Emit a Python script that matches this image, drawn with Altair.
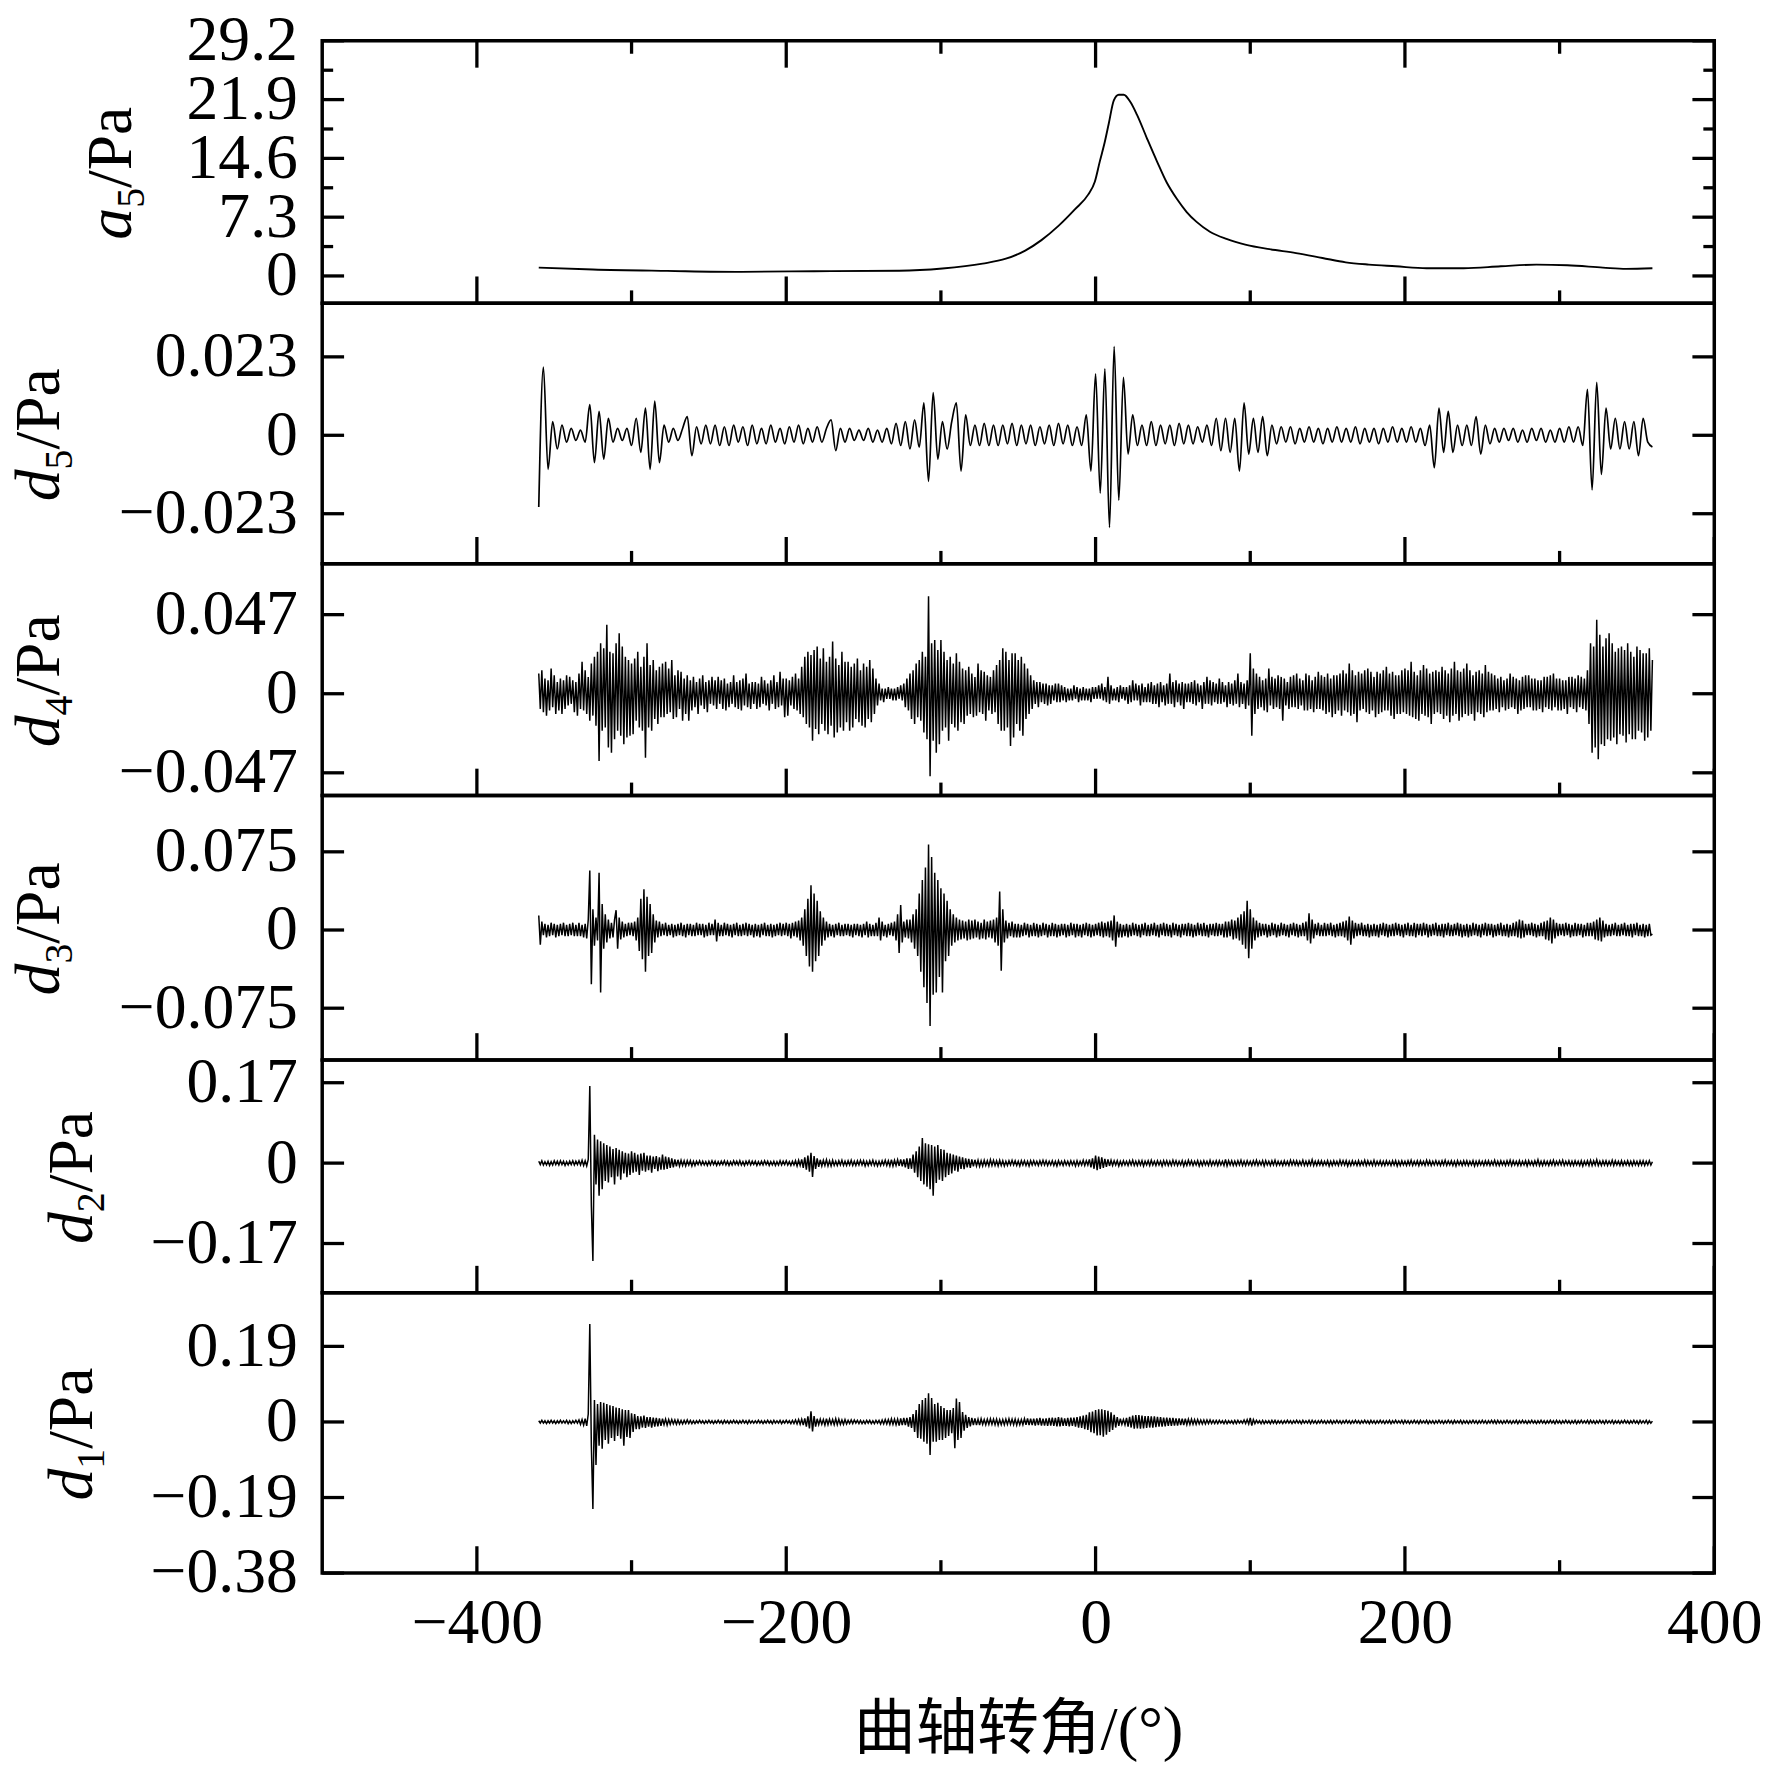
import altair as alt
import pandas as pd

FONT = "Liberation Serif"
TITLE_FONT = "Liberation Serif, Noto Sans CJK SC"
W = 1400
XDOM = [-500, 400]
X_MAJOR = [-400, -200, 0, 200, 400]
X_MINOR = [-300, -100, 100, 300]

# ---- a5 (Pa), read at irregular crank angles ----
a5_deg = [-360, -325, -277, -229, -182, -127, -99, -73, -58, -45.5, -35, -24, -13.4, -4.8, -0.5,
          2.7, 5.9, 8.5, 11.8, 15, 18.2, 22.5, 26.8, 33.2, 39.6, 46, 52.5, 58.9, 65.3, 73.9, 84.6,
          97.4, 112.4, 129.6, 146.7, 161.7, 176.7, 194, 214, 238, 262, 285, 305, 328, 343, 360]
a5_val = [1.04, 0.80, 0.63, 0.51, 0.59, 0.64, 0.92, 1.53, 2.14, 3.15, 4.45, 6.22, 8.27, 10.1, 11.7,
          14.2, 16.6, 18.9, 21.8, 22.5, 22.5, 21.6, 20.0, 17.1, 14.27, 11.6, 9.58, 7.94, 6.71, 5.49, 4.59,
          3.86, 3.33, 2.84, 2.23, 1.69, 1.41, 1.2, 0.96, 0.96, 1.2, 1.41, 1.33, 1.04, 0.88, 0.96]

# ---- d5 (mPa), every 3 deg from -360 ----
d5_mpa = [
    -21, 20, -10, 4, -4, 3, -2, 2, -1.5, 1.5,
    -2, 9, -8, 7, -7, 5, -2, 2, -1.5, 2,
    -3, 5, -5, 8, -10, 10, -8, 3, -2, 2,
    -1.5, 2, 5.5, -6, 2.5, -2.5, 3, -2.5, 3, -3,
    2.5, -3, 3, -2, 2.5, -3, 3, -2.5, 2, -2.5,
    3, -2, 2, -2.5, 2.5, -2, 3, -2.5, 2, -2,
    2.5, -2, 2, 4.5, -4.5, 2, -2, 2, -1.5, 1.5,
    -1.5, 2, -2, 1.5, -2, 2, -2.5, 3.5, -3, 4,
    -4, 4.5, -3.5, 9.5, -13.5, 12.5, -7, 4, -4, 4,
    9.5, -10.5, 6, -3, 3, -3, 3.5, -3, 3, -3,
    3, -2.5, 3.5, -3, 3, -2.5, 3, -3, 2.5, -2.5,
    3, -3, 3.5, -2.5, 3, -3, 2.5, -3, 6, -10.5,
    18, -17, 19.5, -27, 26, -19, 17, -5.5, 6, -3,
    3, -3, 4, -3, 3, -2.5, 3, -3, 3.5, -2.5,
    3, -2.5, 2.5, -2, 3, -3, 5, -4.5, 5, -5,
    5, -10.5, 9.5, -5.5, 5, -5, 5.5, -6, 3, -2.5,
    2.5, -2, 2.5, -2.5, 2, -2, 2.5, -2, 2, -2.5,
    2, -2, 2.5, -2, 2, -2, 2.5, -2.5, 2, -2,
    2, -2.5, 2, -2, 2.5, -2, 2, -2, 2.5, -2,
    2, -3, 3, -9.5, 8, -5, 7, -5, 3, -3,
    3, -3, 5.5, -5.5, 3, -2.5, 2, -2, 2, -1.5,
    2, -2, 1.5, -2, 2, -1.5, 2, -2, 1.5, -2,
    2, -2, 2.5, -2, 2.5, -3, 13.5, -16, 15.5, -11.5,
    8, -4, 5, -4, 4, -4, 4, -6, 5, -2,
    -3.4]

# ---- d4 (mPa), every 1 deg from -360 (20 values per row) ----
d4_mpa = [
    12, -9, 14, -11, 9, -13, 8, -10, 15, -8, 11, -12, 7, -10, 9, -12, 8, -9, 11, -7,
    10, -6, 8, -11, 7, -13, 12, -9, 19, -10, 14, -12, 10, -16, 18, -13, 22, -19, 25, -40,
    30, -22, 27, -20, 41, -32, 25, -35, 24, -27, 30, -22, 36, -25, 28, -30, 22, -26, 20, -25,
    18, -24, 21, -16, 25, -20, 16, -22, 22, -38, 30, -20, 17, -22, 20, -15, 14, -18, 16, -14,
    18, -14, 19, -12, 15, -11, 20, -15, 11, -14, 14, -9, 13, -16, 9, -12, 11, -16, 8, -10,
    10, -8, 7, -12, 9, -7, 11, -9, 7, -11, 8, -6, 10, -7, 8, -9, 10, -6, 8, -9,
    9, -10, 6, -8, 7, -6, 11, -8, 7, -9, 8, -10, 9, -7, 12, -8, 6, -9, 7, -6,
    7, -9, 6, -8, 10, -6, 8, -7, 6, -10, 8, -6, 11, -9, 7, -8, 13, -7, 9, -14,
    9, -13, 8, -7, 10, -9, 12, -10, 9, -12, 16, -14, 22, -18, 25, -20, 23, -28, 26, -21,
    28, -24, 21, -18, 27, -22, 19, -24, 22, -19, 31, -26, 21, -23, 17, -20, 25, -22, 19, -17,
    19, -22, 16, -20, 18, -15, 21, -17, 14, -19, 18, -20, 16, -15, 20, -17, 15, -12, 9, -7,
    6, -4, 3, -5, 3, -3, 4, -3, 3, -4, 3, -4, 4, -3, 5, -4, 6, -8, 9, -10,
    12, -15, 14, -18, 18, -14, 20, -16, 25, -23, 22, -27, 58, -49, 30, -28, 32, -35, 26, -30,
    32, -22, 25, -20, 20, -28, 22, -18, 18, -20, 24, -22, 19, -17, 15, -18, 14, -13, 16, -12,
    12, -14, 10, -13, 18, -11, 14, -12, 13, -16, 11, -10, 10, -12, 14, -11, 17, -18, 20, -22,
    27, -22, 25, -20, 20, -31, 24, -26, 24, -18, 20, -22, 22, -25, 18, -15, 15, -12, 11, -9,
    8, -6, 7, -8, 7, -5, 6, -6, 6, -7, 5, -6, 5, -4, 6, -5, 6, -5, 5, -4,
    4, -5, 3, -4, 3, -4, 5, -3, 4, -5, 3, -4, 4, -4, 3, -4, 3, -5, 4, -3,
    4, -3, 5, -3, 6, -4, 4, -5, 10, -6, 5, -4, 3, -4, 4, -5, 5, -3, 4, -4,
    4, -6, 5, -5, 8, -4, 6, -4, 5, -7, 6, -5, 4, -5, 6, -5, 7, -6, 5, -6,
    6, -8, 7, -5, 5, -7, 6, -6, 12, -6, 7, -8, 8, -5, 6, -7, 7, -9, 6, -5,
    6, -5, 7, -6, 8, -7, 6, -5, 5, -9, 7, -6, 10, -6, 8, -7, 7, -5, 6, -6,
    9, -6, 7, -5, 5, -8, 7, -6, 6, -7, 8, -6, 12, -8, 7, -6, 6, -9, 8, -7,
    24, -25, 15, -12, 12, -9, 10, -8, 8, -10, 9, -11, 15, -7, 10, -9, 9, -8, 11, -9,
    10, -16, 9, -7, 7, -9, 10, -8, 11, -8, 12, -9, 9, -7, 8, -10, 12, -10, 11, -9,
    8, -11, 10, -9, 13, -9, 11, -10, 10, -12, 12, -11, 9, -14, 11, -12, 11, -10, 12, -13,
    14, -10, 12, -11, 18, -13, 14, -12, 11, -17, 13, -10, 12, -9, 14, -11, 15, -12, 13, -10,
    10, -14, 13, -12, 12, -11, 14, -10, 16, -10, 12, -13, 13, -15, 11, -12, 11, -12, 14, -11,
    15, -12, 14, -13, 19, -14, 13, -15, 11, -16, 14, -12, 17, -13, 15, -14, 12, -18, 13, -12,
    14, -11, 13, -12, 16, -15, 14, -13, 12, -17, 15, -13, 19, -12, 14, -16, 13, -14, 15, -12,
    18, -13, 14, -12, 11, -16, 13, -11, 14, -12, 12, -14, 17, -11, 13, -10, 12, -10, 11, -9,
    9, -11, 10, -8, 8, -10, 9, -9, 12, -8, 10, -9, 9, -12, 8, -10, 10, -9, 11, -8,
    11, -8, 9, -10, 9, -10, 8, -9, 8, -11, 10, -8, 10, -9, 11, -10, 12, -8, 9, -10,
    9, -10, 8, -9, 8, -12, 10, -8, 10, -9, 9, -11, 11, -8, 10, -9, 9, -10, 14, -18,
    30, -35, 28, -32, 44, -39, 35, -30, 28, -31, 33, -27, 36, -28, 30, -26, 25, -30, 27, -24,
    28, -25, 26, -29, 30, -24, 25, -27, 22, -27, 28, -22, 26, -23, 24, -28, 24, -26, 27, -22,
    20]

# ---- d3 (mPa), every 1 deg from -360 ----
d3_mpa = [
    14, -14, 8, -5, 6, -7, 5, -6, 7, -5, 6, -7, 5, -6, 6, -5, 7, -6, 5, -6,
    6, -5, 7, -6, 5, -6, 7, -6, 5, -7, 6, -8, 10, 57, -52, 20, -15, 12, -10, 55,
    -60, 25, -18, 15, -12, 10, -8, 7, -7, 10, 19, -18, 12, -9, 8, -7, 6, -6, 7, -5,
    7, -6, 8, -10, 12, -20, 30, -28, 39, -40, 32, -25, 25, -22, 15, -12, 9, -7, 8, -6,
    6, -5, 7, -6, 5, -5, 6, -7, 5, -6, 6, -5, 7, -6, 5, -7, 6, -5, 6, -6,
    5, -6, 7, -5, 6, -5, 6, -7, 5, -6, 7, -5, 6, -5, 10, -11, 7, -6, 5, -6,
    7, -5, 6, -6, 5, -7, 6, -5, 7, -6, 5, -6, 6, -5, 7, -6, 6, -5, 5, -7,
    6, -6, 5, -7, 6, -5, 7, -6, 5, -6, 6, -7, 5, -6, 6, -5, 7, -6, 6, -5,
    7, -6, 6, -8, 7, -6, 8, -7, 9, -10, 12, -15, 20, -25, 30, -35, 43, -40, 35, -30,
    28, -25, 18, -15, 12, -10, 8, -7, 6, -6, 5, -7, 6, -5, 7, -6, 5, -6, 6, -5,
    6, -6, 5, -7, 6, -5, 6, -6, 5, -7, 6, -5, 8, -7, 6, -6, 5, -6, 7, -6,
    12, -10, 8, -6, 5, -7, 6, -5, 7, -6, 8, -10, 15, -22, 24, -12, 8, -7, 10, -8,
    10, -12, 15, -18, 20, -25, 35, -40, 48, -55, 60, -70, 82, -92, 70, -62, 55, -60, 48, -45,
    40, -60, 35, -30, 28, -25, 20, -15, 15, -12, 12, -10, 10, -9, 9, -8, 8, -10, 10, -9,
    9, -8, 10, -7, 8, -9, 7, -8, 10, -9, 8, -7, 9, -8, 10, -12, 12, -15, 37, -39,
    20, -12, 9, -8, 7, -6, 8, -7, 6, -7, 6, -7, 5, -6, 7, -5, 6, -7, 5, -6,
    7, -6, 6, -7, 5, -6, 7, -5, 6, -7, 5, -6, 7, -6, 6, -7, 5, -6, 6, -5,
    6, -7, 5, -6, 7, -5, 6, -7, 6, -6, 5, -7, 6, -5, 7, -6, 6, -7, 5, -6,
    6, -5, 7, -6, 8, -7, 7, -6, 8, -7, 9, -10, 14, -16, 8, -7, 6, -7, 5, -6,
    6, -7, 5, -6, 7, -5, 6, -6, 5, -7, 6, -5, 7, -6, 5, -6, 6, -5, 7, -6,
    5, -7, 6, -5, 7, -6, 6, -6, 5, -7, 7, -5, 6, -6, 5, -7, 6, -5, 6, -6,
    7, -6, 6, -7, 5, -6, 7, -5, 6, -6, 7, -6, 5, -7, 6, -5, 6, -6, 7, -6,
    6, -5, 6, -7, 8, -7, 8, -6, 10, -9, 9, -8, 12, -10, 15, -14, 18, -18, 28, -27,
    20, -18, 12, -10, 9, -7, 7, -6, 6, -5, 6, -7, 5, -6, 7, -5, 6, -7, 5, -6,
    7, -5, 6, -6, 5, -7, 6, -5, 7, -6, 6, -7, 5, -6, 7, -6, 8, -10, 16, -13,
    10, -8, 6, -5, 7, -6, 5, -6, 7, -6, 6, -5, 7, -6, 5, -7, 6, -6, 7, -6,
    8, -7, 9, -10, 13, -14, 9, -8, 7, -6, 6, -5, 7, -6, 5, -6, 6, -7, 5, -6,
    6, -6, 5, -7, 6, -5, 7, -6, 6, -7, 5, -6, 6, -6, 7, -5, 6, -6, 5, -7,
    6, -5, 7, -6, 5, -6, 7, -7, 6, -5, 6, -6, 7, -5, 6, -7, 5, -6, 6, -5,
    7, -6, 5, -6, 6, -7, 6, -5, 7, -6, 5, -6, 6, -5, 7, -6, 6, -7, 5, -6,
    6, -7, 5, -6, 7, -5, 6, -6, 5, -7, 6, -5, 7, -6, 6, -5, 6, -7, 5, -6,
    6, -5, 7, -6, 5, -6, 6, -7, 5, -6, 7, -6, 8, -7, 10, -8, 9, -7, 6, -5,
    6, -5, 7, -6, 6, -7, 5, -6, 7, -6, 8, -9, 9, -10, 12, -13, 10, -8, 7, -6,
    6, -5, 6, -6, 7, -5, 6, -7, 5, -6, 7, -6, 6, -5, 6, -7, 5, -6, 7, -6,
    7, -6, 8, -9, 10, -10, 12, -11, 9, -7, 6, -6, 5, -6, 6, -5, 7, -6, 5, -6,
    6, -5, 7, -6, 5, -6, 6, -7, 6, -5, 7, -6, 5, -6, 6, -7, 5, -6, 6, -5,
    -4]

# ---- d2 (mPa), every 1 deg from -360 ----
d2_mpa = [
    4, -3, 5, -4, 3, -4, 4, -5, 3, -4, 5, -3, 4, -4, 5, -3, 4, -5, 3, -4,
    4, -3, 5, -4, 4, -3, 5, -4, 6, -5, 5, -6, 8, 163, -90, -207, 60, -45, 50, -69,
    46, -55, 42, -38, 38, -41, 35, -30, 30, -45, 32, -28, 28, -35, 25, -22, 22, -30, 20, -25,
    25, -20, 22, -18, 18, -25, 20, -16, 22, -18, 16, -15, 16, -20, 14, -12, 15, -17, 12, -14,
    18, -14, 14, -12, 12, -10, 10, -9, 8, -7, 7, -6, 6, -5, 5, -6, 5, -4, 5, -6,
    4, -5, 4, -3, 5, -4, 4, -4, 3, -5, 4, -4, 5, -3, 4, -5, 3, -4, 4, -3,
    5, -4, 4, -5, 3, -4, 5, -3, 4, -4, 5, -4, 3, -5, 4, -3, 5, -4, 4, -3,
    4, -5, 3, -4, 4, -4, 5, -3, 4, -5, 3, -4, 4, -5, 3, -4, 5, -4, 4, -3,
    5, -4, 3, -5, 4, -4, 5, -6, 6, -5, 8, -10, 12, -14, 16, -18, 22, -29, 15, -12,
    10, -8, 7, -6, 6, -5, 7, -6, 5, -6, 6, -5, 4, -5, 5, -4, 6, -5, 4, -5,
    5, -4, 6, -5, 4, -5, 5, -4, 6, -4, 5, -6, 4, -5, 5, -4, 6, -5, 4, -6,
    4, -5, 5, -4, 6, -5, 5, -6, 7, -6, 6, -5, 7, -6, 8, -7, 8, -9, 10, -12,
    10, -12, 18, -20, 25, -30, 35, -38, 53, -45, 42, -50, 40, -55, 38, -69, 35, -42, 38, -35,
    30, -38, 28, -30, 22, -25, 20, -22, 18, -16, 16, -18, 14, -12, 12, -13, 10, -9, 9, -10,
    8, -7, 7, -6, 6, -7, 5, -6, 6, -5, 5, -6, 7, -5, 6, -5, 5, -6, 6, -5,
    5, -6, 4, -5, 5, -4, 6, -4, 5, -5, 4, -6, 5, -4, 5, -5, 4, -6, 5, -4,
    5, -4, 4, -5, 5, -4, 6, -4, 5, -5, 4, -4, 5, -5, 4, -6, 5, -4, 4, -5,
    5, -4, 4, -5, 5, -4, 4, -6, 5, -5, 4, -4, 6, -5, 5, -4, 8, -9, 10, -12,
    16, -15, 14, -12, 12, -10, 9, -8, 8, -6, 6, -5, 5, -4, 5, -6, 4, -5, 5, -4,
    4, -5, 5, -4, 6, -5, 4, -5, 5, -4, 5, -6, 4, -4, 5, -5, 6, -4, 4, -5,
    5, -4, 4, -6, 5, -4, 5, -5, 4, -5, 6, -4, 5, -5, 4, -4, 5, -6, 4, -5,
    6, -4, 5, -5, 4, -4, 5, -6, 4, -5, 5, -4, 4, -5, 6, -5, 4, -4, 5, -5,
    5, -4, 4, -5, 8, -6, 5, -4, 5, -5, 4, -5, 5, -4, 6, -5, 4, -5, 5, -4,
    4, -5, 5, -4, 6, -5, 4, -4, 5, -6, 5, -4, 4, -5, 5, -4, 6, -5, 4, -4,
    4, -5, 5, -4, 4, -5, 6, -4, 5, -4, 5, -5, 4, -4, 6, -5, 4, -5, 5, -4,
    7, -5, 4, -5, 5, -4, 5, -5, 4, -4, 5, -6, 4, -5, 5, -4, 4, -5, 6, -4,
    5, -4, 5, -6, 4, -5, 5, -4, 4, -5, 5, -5, 4, -4, 6, -5, 5, -4, 4, -5,
    6, -5, 4, -4, 5, -5, 4, -5, 5, -4, 4, -5, 5, -4, 5, -6, 4, -5, 5, -4,
    4, -5, 5, -4, 6, -5, 4, -4, 5, -5, 5, -4, 4, -5, 6, -4, 5, -5, 4, -4,
    5, -4, 4, -5, 5, -4, 6, -5, 4, -4, 5, -5, 4, -6, 5, -4, 4, -5, 5, -4,
    5, -5, 4, -4, 5, -6, 4, -5, 5, -4, 4, -5, 5, -4, 5, -5, 4, -4, 6, -5,
    4, -5, 5, -4, 4, -5, 5, -4, 6, -5, 5, -4, 4, -5, 5, -5, 4, -4, 5, -6,
    5, -4, 4, -5, 5, -4, 7, -5, 4, -5, 5, -4, 4, -5, 5, -4, 6, -5, 4, -4,
    5, -4, 6, -5, 4, -4, 5, -5, 4, -5, 5, -4, 4, -5, 5, -6, 4, -4, 5, -5,
    6, -5, 5, -4, 7, -5, 4, -5, 5, -4, 5, -5, 4, -4, 6, -5, 5, -4, 4, -5,
    5, -5, 4, -4, 5, -5, 4, -5, 5, -4, 4, -5, 5, -4, 5, -5, 4, -4, 5, -4,
    3]

# ---- d1 (mPa), every 1 deg from -360 ----
d1_mpa = [
    3, -3, 4, -3, 3, -4, 3, -3, 4, -3, 3, -4, 3, -3, 4, -3, 3, -3, 4, -4,
    3, -4, 3, -3, 4, -3, 5, -6, 6, -8, 8, -10, 20, 246, -60, -219, 55, -108, 45, -60,
    50, -67, 48, -45, 45, -55, 42, -40, 40, -48, 36, -35, 35, -42, 32, -60, 30, -38, 30, -40,
    22, -25, 20, -18, 15, -18, 14, -14, 16, -15, 12, -12, 12, -14, 11, -12, 10, -11, 9, -10,
    8, -7, 7, -8, 6, -6, 6, -5, 5, -6, 5, -5, 4, -5, 4, -4, 5, -4, 4, -4,
    3, -4, 3, -3, 4, -3, 3, -4, 3, -3, 4, -3, 3, -4, 3, -3, 4, -3, 3, -4,
    4, -3, 3, -4, 3, -3, 4, -3, 3, -4, 3, -3, 4, -3, 3, -4, 4, -3, 3, -3,
    3, -3, 4, -3, 3, -4, 3, -3, 4, -3, 3, -4, 4, -3, 3, -3, 4, -4, 3, -3,
    4, -3, 3, -4, 4, -4, 5, -5, 6, -6, 7, -8, 9, -12, 14, -16, 27, -24, 15, -12,
    8, -7, 7, -6, 6, -8, 8, -7, 7, -6, 6, -7, 8, -7, 7, -6, 5, -6, 6, -5,
    4, -4, 5, -4, 5, -3, 4, -4, 4, -4, 3, -4, 4, -3, 4, -4, 3, -4, 4, -3,
    4, -5, 5, -5, 6, -5, 6, -6, 8, -6, 7, -7, 7, -9, 9, -8, 10, -8, 10, -12,
    12, -15, 20, -25, 30, -40, 45, -42, 55, -50, 60, -55, 72, -83, 60, -50, 45, -50, 48, -45,
    40, -45, 35, -40, 30, -35, 30, -28, 35, -66, 59, -45, 50, -40, 25, -22, 18, -15, 12, -11,
    10, -8, 9, -8, 7, -8, 8, -6, 6, -7, 7, -6, 8, -6, 7, -7, 7, -8, 6, -7,
    6, -7, 7, -6, 8, -6, 7, -7, 7, -8, 6, -7, 6, -7, 8, -7, 9, -8, 8, -8,
    8, -9, 9, -8, 10, -9, 8, -9, 9, -10, 10, -9, 11, -10, 10, -11, 12, -11, 11, -10,
    9, -10, 10, -11, 11, -10, 11, -12, 12, -14, 14, -15, 16, -18, 18, -20, 24, -26, 26, -28,
    30, -34, 32, -33, 32, -37, 30, -32, 28, -25, 24, -20, 18, -14, 12, -10, 8, -6, 6, -7,
    10, -12, 13, -14, 16, -17, 17, -16, 17, -17, 16, -16, 15, -15, 15, -14, 14, -14, 14, -13,
    13, -12, 12, -12, 11, -11, 11, -10, 10, -10, 10, -9, 9, -9, 9, -8, 8, -8, 8, -7,
    7, -6, 7, -6, 6, -6, 6, -5, 5, -5, 5, -5, 5, -4, 5, -4, 4, -4, 4, -4,
    4, -3, 3, -4, 4, -4, 3, -3, 3, -4, 4, -4, 4, -3, 3, -3, 5, -4, 6, -5,
    10, -9, 6, -4, 4, -3, 3, -4, 4, -4, 3, -3, 3, -4, 4, -3, 4, -4, 3, -3,
    3, -4, 3, -3, 4, -3, 3, -4, 3, -3, 4, -3, 3, -4, 4, -3, 3, -3, 4, -4,
    4, -3, 3, -4, 3, -3, 4, -3, 3, -4, 3, -3, 4, -4, 3, -3, 4, -3, 3, -4,
    3, -3, 4, -3, 3, -4, 3, -3, 4, -3, 3, -4, 3, -3, 4, -3, 3, -4, 4, -3,
    3, -4, 3, -3, 4, -3, 3, -4, 3, -3, 4, -4, 3, -3, 4, -3, 3, -3, 4, -4,
    4, -3, 3, -4, 3, -3, 4, -3, 3, -4, 4, -3, 3, -3, 4, -4, 3, -3, 3, -4,
    3, -3, 4, -3, 3, -4, 3, -3, 4, -3, 3, -4, 4, -3, 3, -3, 4, -4, 3, -3,
    3, -4, 3, -3, 4, -3, 3, -4, 3, -3, 4, -3, 3, -4, 3, -3, 4, -3, 4, -4,
    4, -3, 3, -4, 3, -3, 4, -3, 3, -4, 3, -3, 4, -4, 3, -3, 4, -3, 3, -4,
    3, -3, 4, -3, 3, -4, 3, -3, 4, -3, 3, -4, 3, -3, 4, -3, 3, -4, 4, -3,
    3, -4, 3, -3, 4, -3, 3, -4, 3, -3, 4, -4, 3, -3, 4, -3, 3, -3, 4, -4,
    4, -3, 3, -4, 3, -3, 4, -3, 3, -4, 4, -3, 3, -3, 4, -4, 3, -3, 3, -4,
    3, -3, 4, -3, 3, -4, 3, -3, 4, -3, 3, -4, 4, -3, 3, -3, 4, -4, 3, -3,
    2]


def series(vals, step):
    return pd.DataFrame({"deg": [-360 + step * i for i in range(len(vals))],
                         "v": [x * 0.001 for x in vals]})


PANELS = [
    dict(df=pd.DataFrame({"deg": a5_deg, "v": a5_val}), h=264, dom=[-3.4, 29.2],
         ticks=[0, 7.3, 14.6, 21.9, 29.2], minor=[3.65, 10.95, 18.25, 25.55],
         sym="a", sub="5", tx=-192, interp="monotone", sw=1.9),
    dict(df=series(d5_mpa, 3), h=262, dom=[-0.0377, 0.0387], ticks=[-0.023, 0, 0.023], minor=[],
         sym="d", sub="5", tx=-265, interp="monotone", sw=1.7),
    dict(df=series(d4_mpa, 1), h=233, dom=[-0.0605, 0.0772], ticks=[-0.047, 0, 0.047], minor=[],
         sym="d", sub="4", tx=-265, interp="linear", sw=1.5),
    dict(df=series(d3_mpa, 1), h=266, dom=[-0.1247, 0.129], ticks=[-0.075, 0, 0.075], minor=[],
         sym="d", sub="3", tx=-265, interp="linear", sw=1.5),
    dict(df=series(d2_mpa, 1), h=234, dom=[-0.274, 0.218], ticks=[-0.17, 0, 0.17], minor=[],
         sym="d", sub="2", tx=-232, interp="linear", sw=1.5),
    dict(df=series(d1_mpa, 1), h=282, dom=[-0.38, 0.325], ticks=[-0.38, -0.19, 0, 0.19], minor=[],
         sym="d", sub="1", tx=-232, interp="linear", sw=1.5),
]

TICK_W = 3.3


def text_layer(s, x, y, size, style):
    return alt.Chart(pd.DataFrame({"t": [s]})).mark_text(
        angle=270, align="left", baseline="alphabetic", font=FONT,
        fontSize=size, fontStyle=style, color="black"
    ).encode(text="t:N", x=alt.value(x), y=alt.value(y))


charts = []
n = len(PANELS)
for i, p in enumerate(PANELS):
    h = p["h"]
    last = i == n - 1
    if last:
        xaxis = alt.Axis(values=X_MAJOR, format="d", ticks=False, domain=False, grid=False,
                         labelFont=FONT, labelFontSize=64, labelColor="black", labelPadding=19,
                         labelFlush=False, labelOverlap=False, labelLimit=500,
                         title="曲轴转角/(°)", titleFont=TITLE_FONT, titleFontSize=62,
                         titleFontWeight="normal", titleColor="black", titlePadding=44,
                         titleLimit=1000)
    else:
        xaxis = None
    X = alt.X("deg:Q", scale=alt.Scale(domain=XDOM, nice=False, zero=False), axis=xaxis)
    Y = alt.Y("v:Q", scale=alt.Scale(domain=p["dom"], nice=False, zero=False),
              axis=alt.Axis(values=p["ticks"], format=".3~f", ticks=False, domain=False, grid=False,
                            labelFont=FONT, labelFontSize=64, labelColor="black", labelPadding=25,
                            labelOverlap=False, labelFlush=False, labelLimit=500, title=None))

    layers = [alt.Chart(p["df"]).mark_line(color="black", strokeWidth=p["sw"],
                                           interpolate=p["interp"]).encode(x=X, y=Y)]

    yt = pd.DataFrame({"v": p["ticks"]})
    layers.append(alt.Chart(yt).mark_rule(color="black", strokeWidth=TICK_W).encode(
        y=Y, x=alt.value(0), x2=alt.value(22)))
    layers.append(alt.Chart(yt).mark_rule(color="black", strokeWidth=TICK_W).encode(
        y=Y, x=alt.value(W - 22), x2=alt.value(W)))
    if p["minor"]:
        ym = pd.DataFrame({"v": p["minor"]})
        layers.append(alt.Chart(ym).mark_rule(color="black", strokeWidth=TICK_W).encode(
            y=Y, x=alt.value(0), x2=alt.value(11)))
        layers.append(alt.Chart(ym).mark_rule(color="black", strokeWidth=TICK_W).encode(
            y=Y, x=alt.value(W - 11), x2=alt.value(W)))

    xmaj = pd.DataFrame({"deg": X_MAJOR})
    xmin = pd.DataFrame({"deg": X_MINOR})
    layers.append(alt.Chart(xmaj).mark_rule(color="black", strokeWidth=TICK_W).encode(
        x=X, y=alt.value(h), y2=alt.value(h - 27)))
    layers.append(alt.Chart(xmin).mark_rule(color="black", strokeWidth=TICK_W).encode(
        x=X, y=alt.value(h), y2=alt.value(h - 13)))
    if i == 0:
        layers.append(alt.Chart(xmaj).mark_rule(color="black", strokeWidth=TICK_W).encode(
            x=X, y=alt.value(0), y2=alt.value(27)))
        layers.append(alt.Chart(xmin).mark_rule(color="black", strokeWidth=TICK_W).encode(
            x=X, y=alt.value(0), y2=alt.value(13)))

    y0 = h / 2 + 68
    tx = p["tx"]
    layers.append(text_layer(p["sym"], tx, y0, 64, "italic"))
    layers.append(text_layer(p["sub"], tx + 13, y0 - 32, 40, "normal"))
    layers.append(text_layer("/Pa", tx, y0 - 52, 64, "normal"))

    charts.append(alt.layer(*layers).properties(width=W, height=h))

chart = alt.vconcat(
    *charts, spacing=0, bounds="flush", background="white",
    padding={"left": -2, "top": -6, "right": 0, "bottom": 0}
).configure_view(stroke="black", strokeWidth=3.5)

chart.save("out.html", embed_options={"renderer": "svg", "actions": False})
